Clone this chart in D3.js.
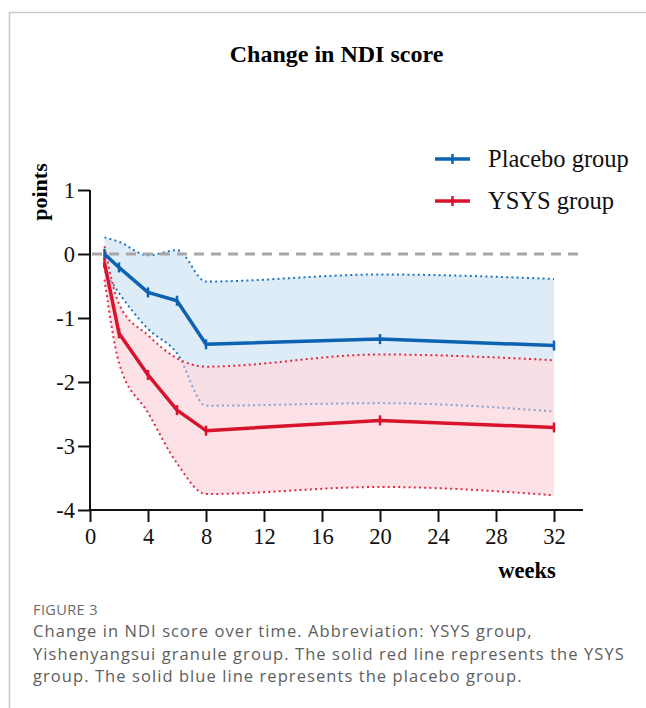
<!DOCTYPE html>
<html>
<head>
<meta charset="utf-8">
<script src="https://cdn.jsdelivr.net/npm/d3@7"></script>
<style>
  html, body { margin: 0; padding: 0; background: #fff; }
  svg { display: block; }
</style>
</head>
<body>
<script>
// ---- Data ----
const weeks = [1, 2, 4, 6, 8, 20, 32];
const placeboMean  = [0.00, -0.21, -0.60, -0.73, -1.41, -1.33, -1.43];
const placeboUpper = [0.26,  0.19, -0.02,  0.06, -0.43, -0.32, -0.39];
const placeboLower = [-0.27, -0.61, -1.17, -1.55, -2.37, -2.33, -2.46];
const ysysMean  = [-0.14, -1.24, -1.89, -2.44, -2.76, -2.60, -2.71];
const ysysUpper = [ 0.12, -0.78, -1.27, -1.63, -1.76, -1.57, -1.66];
const ysysLower = [-0.40, -1.70, -2.48, -3.27, -3.75, -3.64, -3.77];
const xTicks = [0, 4, 8, 12, 16, 20, 24, 28, 32];
const yTicks = [1, 0, -1, -2, -3, -4];
const seriesNames = ["Placebo group", "YSYS group"];
const titleText = "Change in NDI score";
const yLabel = "points";
const xLabel = "weeks";
const captionHead = "FIGURE 3";
const captionLines = [
  "Change in NDI score over time. Abbreviation: YSYS group,",
  "Yishenyangsui granule group. The solid red line represents the YSYS",
  "group. The solid blue line represents the placebo group."
];

const W = 646, H = 708;
const svg = d3.select("body").append("svg").attr("width", W).attr("height", H);

// frame
svg.append("path").attr("d", `M9.5,${H} V12.5 H${W}`)
  .attr("fill", "none").attr("stroke", "#c9c9c9").attr("stroke-width", 1.5);

const x = d3.scaleLinear().domain([0, 34]).range([90, 583]);
const y = d3.scaleLinear().domain([-4, 1]).range([510, 190]);

const serif = "'Liberation Serif', 'Times New Roman', serif";

// title
svg.append("text").attr("x", 336.5).attr("y", 62).attr("text-anchor", "middle")
  .attr("font-family", serif).attr("font-weight", "bold").attr("font-size", 24)
  .text(titleText);

const blue = "#0d63b1", red = "#d7142c";
const blueDot = "#1f74c4", redDot = "#e3293f";

function rows(lo, hi) { return weeks.map((w, i) => ({ w, lo: lo[i], hi: hi[i] })); }
const area = d3.area().x(d => x(d.w)).y0(d => y(d.lo)).y1(d => y(d.hi)).curve(d3.curveMonotoneX);
const bandLine = d3.line().x(d => x(d[0])).y(d => y(d[1])).curve(d3.curveMonotoneX);
const meanLine = d3.line().x(d => x(d[0])).y(d => y(d[1]));

const defs = svg.append("defs");
defs.append("clipPath").attr("id", "redClip").append("path")
  .datum(rows(ysysLower, ysysUpper)).attr("d", area);

const plot = svg.append("g");

// placebo band
plot.append("path").datum(rows(placeboLower, placeboUpper)).attr("d", area)
  .attr("fill", "#deecf7");
[placeboUpper, placeboLower].forEach(arr => {
  plot.append("path").datum(weeks.map((w, i) => [w, arr[i]])).attr("d", bandLine)
    .attr("fill", "none").attr("stroke", blueDot).attr("stroke-width", 2)
    .attr("stroke-dasharray", "2,3.2");
});

// zero reference dashed line
plot.append("line").attr("x1", 92).attr("x2", 583).attr("y1", y(0)).attr("y2", y(0))
  .attr("stroke", "#a7a7a7").attr("stroke-width", 3).attr("stroke-dasharray", "10,7");

// ysys band
plot.append("path").datum(rows(ysysLower, ysysUpper)).attr("d", area)
  .attr("fill", "rgb(251,221,226)").attr("fill-opacity", 0.85);
// placebo lower bound seen through the pink band
plot.append("path").datum(weeks.map((w, i) => [w, placeboLower[i]])).attr("d", bandLine)
  .attr("clip-path", "url(#redClip)")
  .attr("fill", "none").attr("stroke", "#8ea6d2").attr("stroke-width", 2)
  .attr("stroke-dasharray", "2,3.2");
[ysysUpper, ysysLower].forEach(arr => {
  plot.append("path").datum(weeks.map((w, i) => [w, arr[i]])).attr("d", bandLine)
    .attr("fill", "none").attr("stroke", redDot).attr("stroke-width", 2)
    .attr("stroke-dasharray", "2,3.2");
});

// mean lines with markers
function drawMean(vals, color) {
  const pts = weeks.map((w, i) => [w, vals[i]]);
  plot.append("path").datum(pts).attr("d", meanLine)
    .attr("fill", "none").attr("stroke", color).attr("stroke-width", 3.5)
    .attr("stroke-linejoin", "round");
  plot.selectAll(null).data(pts).enter().append("line")
    .attr("x1", d => x(d[0])).attr("x2", d => x(d[0]))
    .attr("y1", d => y(d[1]) - 5).attr("y2", d => y(d[1]) + 5)
    .attr("stroke", color).attr("stroke-width", 2.5);
}
drawMean(placeboMean, blue);
drawMean(ysysMean, red);

// axes
const xAxis = svg.append("g").attr("transform", "translate(0,510)")
  .call(d3.axisBottom(x).tickValues(xTicks).tickSize(12).tickSizeOuter(0).tickPadding(6).tickFormat(d => String(d)));
const yAxis = svg.append("g").attr("transform", "translate(90,0)")
  .call(d3.axisLeft(y).tickValues(yTicks).tickSize(12).tickSizeOuter(0).tickPadding(3).tickFormat(d => String(d)));
[xAxis, yAxis].forEach(g => {
  g.select(".domain").attr("stroke", "#111").attr("stroke-width", 2);
  g.selectAll(".tick line").attr("stroke", "#111").attr("stroke-width", 2);
  g.selectAll(".tick text").attr("fill", "#111").attr("font-family", serif).attr("font-size", 22.5);
});
xAxis.select(".domain").attr("d", `M${x(0)},0H${x(34)}`);
yAxis.select(".domain").attr("d", `M0,${y(1)}V${y(-4) + 1}`);

// axis labels
svg.append("text").attr("transform", "translate(47,192) rotate(-90)").attr("text-anchor", "middle")
  .attr("font-family", serif).attr("font-weight", "bold").attr("font-size", 22).text(yLabel);
svg.append("text").attr("x", 527).attr("y", 578).attr("text-anchor", "middle")
  .attr("font-family", serif).attr("font-weight", "bold").attr("font-size", 22.5).text(xLabel);

// legend
const legend = svg.append("g");
[[blue, 159], [red, 201]].forEach(([c, ly], i) => {
  legend.append("line").attr("x1", 435).attr("x2", 470).attr("y1", ly).attr("y2", ly)
    .attr("stroke", c).attr("stroke-width", 3.5);
  legend.append("line").attr("x1", 452.5).attr("x2", 452.5).attr("y1", ly - 5).attr("y2", ly + 5)
    .attr("stroke", c).attr("stroke-width", 2.5);
  legend.append("text").attr("x", 488).attr("y", ly + 8)
    .attr("font-family", serif).attr("font-size", 24.5).attr("fill", "#111").text(seriesNames[i]);
});

// caption
const sans = "'Open Sans', 'Noto Sans', sans-serif";
svg.append("text").attr("x", 33).attr("y", 615).attr("font-family", sans).attr("font-size", 14.5)
  .attr("letter-spacing", 0.4).attr("fill", "#6b6b6b").text(captionHead);
captionLines.forEach((t, i) => {
  svg.append("text").attr("x", 33).attr("y", 637 + i * 22.5).attr("font-family", sans)
    .attr("font-size", 16.5).attr("letter-spacing", 1.07).attr("fill", "#5e5e5e").text(t);
});
</script>
</body>
</html>
